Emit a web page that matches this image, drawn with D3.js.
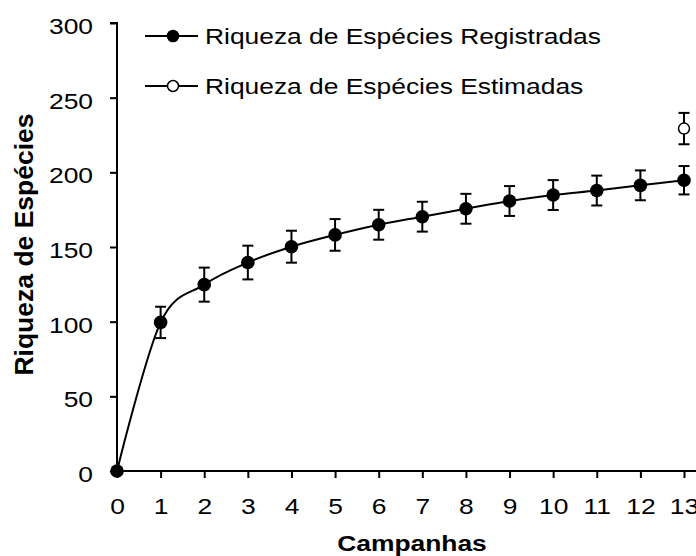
<!DOCTYPE html>
<html>
<head>
<meta charset="utf-8">
<script src="https://cdn.jsdelivr.net/npm/d3@7"></script>
<style>
  html, body { margin: 0; padding: 0; background: #fff; }
  svg { display: block; font-family: "Liberation Sans", Arial, sans-serif; }
</style>
</head>
<body>
<svg id="chart" width="696" height="556"></svg>
<script>
const campanhas = [0, 1, 2, 3, 4, 5, 6, 7, 8, 9, 10, 11, 12, 13];
const registradas = [0, 99.5, 124.8, 139.6, 150.2, 158.1, 164.9, 170.3, 175.6, 180.8, 184.8, 187.8, 191.3, 194.7];
const erroRegistradas = [0, 10.5, 11.4, 11.3, 10.7, 10.6, 10, 10, 10, 10, 10, 10, 10, 9.5];
const estimadaX = [13];
const estimadas = [229.3];
const erroEstimadas = [10.5];
const yTicks = [0, 50, 100, 150, 200, 250, 300];
const legendLabels = ["Riqueza de Espécies Registradas", "Riqueza de Espécies Estimadas"];
const xTitle = "Campanhas";
const yTitle = "Riqueza de Espécies";

const FS = 22, SX = 1.2;
const svg = d3.select("#chart");
const mLeft = 117, mRight = 696, mTop = 23, mBottom = 471;
const x = d3.scaleLinear().domain([0, 13.275]).range([mLeft, mRight]);
const y = d3.scaleLinear().domain([0, 300]).range([mBottom, mTop]);

function stretch(sel) {
  sel.each(function() {
    const t = d3.select(this);
    const ax = +t.attr("x") || 0;
    t.attr("transform", `translate(${ax},0) scale(${SX},1) translate(${-ax},0)`);
  });
}

// axes
const xAxis = svg.append("g").attr("transform", `translate(0,${mBottom})`)
  .call(d3.axisBottom(x).tickValues(campanhas).tickSize(7).tickPadding(20).tickFormat(d3.format("d")));
const yAxis = svg.append("g").attr("transform", `translate(${mLeft},0)`)
  .call(d3.axisLeft(y).tickValues(yTicks).tickSize(7).tickPadding(17));
[xAxis, yAxis].forEach(g => {
  g.select(".domain").attr("stroke", "#000").attr("stroke-width", 2);
  g.selectAll(".tick line").attr("stroke", "#000").attr("stroke-width", 2);
  g.selectAll("text").attr("fill", "#000").style("font-size", FS + "px")
    .style("font-family", '"Liberation Sans", Arial, sans-serif');
});
yAxis.selectAll(".tick text").attr("dy", "0.47em");
stretch(xAxis.selectAll(".tick text"));
stretch(yAxis.selectAll(".tick text"));
yAxis.select(".domain").attr("d", `M-7,${mTop}H0V${mBottom}`);
xAxis.select(".domain").attr("d", `M${mLeft},0H${mRight}`);

// titles
const xt = svg.append("text").attr("x", 412).attr("y", 551)
  .attr("text-anchor", "middle").style("font-size", FS + "px").style("font-weight", "bold").text(xTitle);
stretch(xt);
svg.append("text").attr("transform", `translate(33,${(112 + 377) / 2}) rotate(-90)`)
  .attr("text-anchor", "middle").style("font-size", "26.5px").style("font-weight", "bold").text(yTitle);

// line
const pts = campanhas.map((c, i) => [c, registradas[i]]);
const line = d3.line().x(d => x(d[0])).y(d => y(d[1])).curve(d3.curveCardinal.tension(0));
svg.append("path").attr("d", line(pts)).attr("fill", "none").attr("stroke", "#000").attr("stroke-width", 2);

// error bars
function errorBars(xs, vals, errs) {
  const g = svg.append("g").attr("stroke", "#000").attr("stroke-width", 2);
  xs.forEach((c, i) => {
    const e = errs[i];
    if (!e) return;
    const cx = x(c), y1 = y(vals[i] + e), y2 = y(vals[i] - e);
    g.append("line").attr("x1", cx).attr("x2", cx).attr("y1", y1).attr("y2", y2);
    g.append("line").attr("x1", cx - 5.5).attr("x2", cx + 5.5).attr("y1", y1).attr("y2", y1);
    g.append("line").attr("x1", cx - 5.5).attr("x2", cx + 5.5).attr("y1", y2).attr("y2", y2);
  });
}
errorBars(campanhas, registradas, erroRegistradas);
errorBars(estimadaX, estimadas, erroEstimadas);

svg.append("g").selectAll("circle").data(pts).join("circle")
  .attr("cx", d => x(d[0])).attr("cy", d => y(d[1])).attr("r", 6.8).attr("fill", "#000");
svg.append("g").selectAll("circle").data(estimadaX.map((c, i) => [c, estimadas[i]])).join("circle")
  .attr("cx", d => x(d[0])).attr("cy", d => y(d[1])).attr("r", 5.5)
  .attr("fill", "#fff").attr("stroke", "#000").attr("stroke-width", 1.5);

// legend
const legY = [36, 86];
legendLabels.forEach((lab, i) => {
  const g = svg.append("g");
  g.append("line").attr("x1", 145).attr("x2", 198).attr("y1", legY[i]).attr("y2", legY[i])
    .attr("stroke", "#000").attr("stroke-width", 2);
  g.append("circle").attr("cx", 173).attr("cy", legY[i]).attr("r", i === 0 ? 6.3 : 5.5)
    .attr("fill", i === 0 ? "#000" : "#fff").attr("stroke", "#000").attr("stroke-width", i === 0 ? 0 : 1.5);
  const t = g.append("text").attr("x", 205).attr("y", legY[i]).attr("dy", "0.36em")
    .style("font-size", FS + "px").text(lab);
  stretch(t);
});
</script>
</body>
</html>
